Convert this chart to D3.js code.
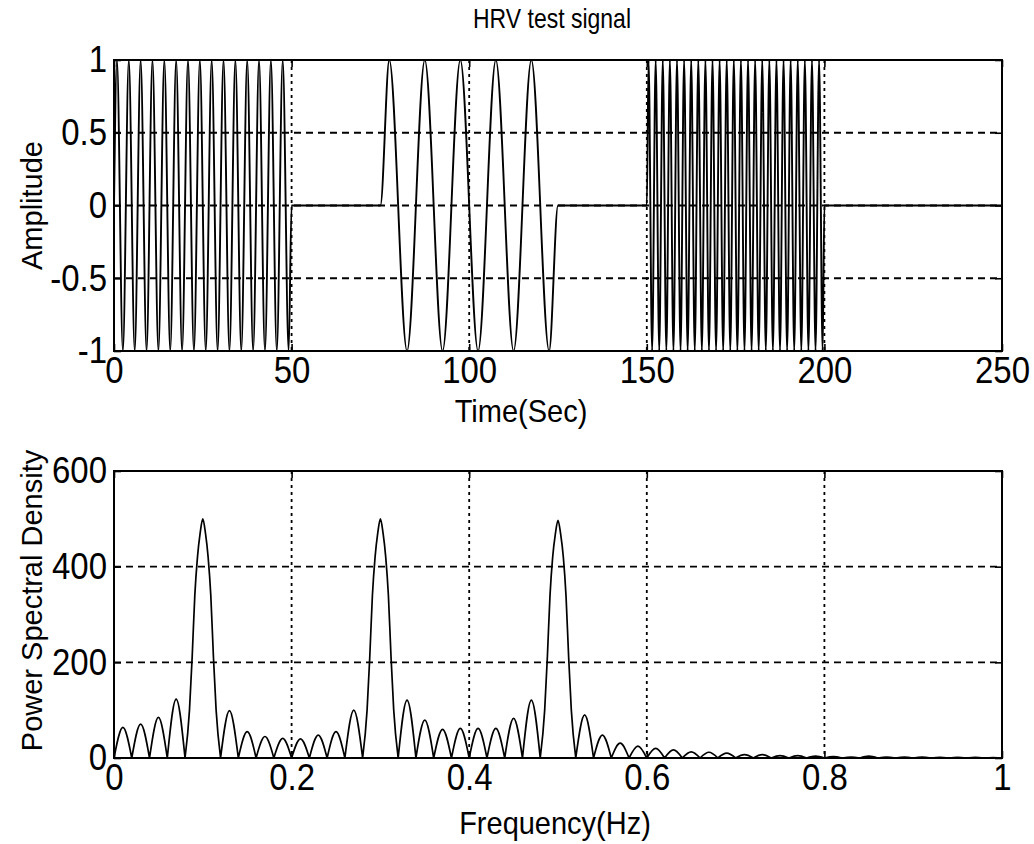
<!DOCTYPE html>
<html>
<head>
<meta charset="utf-8">
<script src="https://cdn.jsdelivr.net/npm/d3@7"></script>
<style>
  body { margin: 0; background: #fff; }
  svg { display: block; }
  text { font-family: "Liberation Sans", Arial, Helvetica, sans-serif; fill: #000; }
</style>
</head>
<body>
<svg id="chart" width="1034" height="844"></svg>
<script>
// ---- HRV test signal: three sinusoid bursts, given by their extrema (seconds) ----
const burstAPeaks   = [0.83, 4.17, 7.5, 10.83, 14.17, 17.5, 20.83, 24.17, 27.5, 30.83, 34.17, 37.5, 40.83, 44.17, 47.5];
const burstATroughs = [2.5, 5.83, 9.17, 12.5, 15.83, 19.17, 22.5, 25.83, 29.17, 32.5, 35.83, 39.17, 42.5, 45.83, 49.17];
const burstBPeaks   = [77.5, 87.5, 97.5, 107.5, 117.5];
const burstBTroughs = [82.5, 92.5, 102.5, 112.5, 122.5];
const burstCPeaks   = [150.5, 152.5, 154.5, 156.5, 158.5, 160.5, 162.5, 164.5, 166.5, 168.5, 170.5, 172.5, 174.5,
                       176.5, 178.5, 180.5, 182.5, 184.5, 186.5, 188.5, 190.5, 192.5, 194.5, 196.5, 198.5];
const burstCTroughs = [151.5, 153.5, 155.5, 157.5, 159.5, 161.5, 163.5, 165.5, 167.5, 169.5, 171.5, 173.5, 175.5,
                       177.5, 179.5, 181.5, 183.5, 185.5, 187.5, 189.5, 191.5, 193.5, 195.5, 197.5, 199.5];
const restTimes     = [0, 50, 75, 125, 150, 200, 250];   // signal sits at 0 here

const timeTicks = [0, 50, 100, 150, 200, 250];
const ampTicks  = [-1, -0.5, 0, 0.5, 1];
const ampTickLabels = ["-1", "-0.5", "0", "0.5", "1"];

// ---- Power spectral density: lobe vertices (Hz, value); zeros split the lobes ----
const psdFreq = [
  0, 0.01, 0.02, 0.03, 0.04, 0.05, 0.06, 0.07, 0.08,
  0.085, 0.088, 0.091, 0.094, 0.097, 0.1, 0.103, 0.106, 0.109, 0.112, 0.115, 0.12,
  0.13, 0.14, 0.15, 0.16, 0.17, 0.18, 0.19, 0.2, 0.21, 0.22, 0.23, 0.24, 0.25, 0.26, 0.27, 0.28,
  0.285, 0.288, 0.291, 0.294, 0.297, 0.3, 0.303, 0.306, 0.309, 0.312, 0.315, 0.32,
  0.33, 0.34, 0.35, 0.36, 0.37, 0.38, 0.39, 0.4, 0.41, 0.42, 0.43, 0.44, 0.45, 0.46, 0.47, 0.48,
  0.485, 0.488, 0.491, 0.494, 0.497, 0.5, 0.503, 0.506, 0.509, 0.512, 0.515, 0.52,
  0.53, 0.54, 0.55, 0.56, 0.57, 0.58, 0.59, 0.6, 0.61, 0.62, 0.63, 0.64, 0.65, 0.66, 0.67, 0.68,
  0.69, 0.7, 0.71, 0.72, 0.73, 0.74, 0.75, 0.76, 0.77, 0.78, 0.79, 0.8, 0.81, 0.82, 0.83, 0.84,
  0.85, 0.86, 0.87, 0.88, 0.89, 0.9, 0.91, 0.92, 0.93, 0.94, 0.95, 0.96, 0.97, 0.98, 0.99, 1
];
const psdPower = [
  0, 64, 0, 71, 0, 85, 0, 123, 0,
  100, 210, 340, 420, 470, 500, 470, 420, 340, 210, 100, 0,
  99, 0, 55, 0, 45, 0, 41, 0, 40, 0, 48, 0, 55, 0, 100, 0,
  100, 210, 340, 420, 470, 500, 470, 420, 340, 210, 100, 0,
  121, 0, 79, 0, 60, 0, 62, 0, 62, 0, 62, 0, 83, 0, 121, 0,
  100, 210, 340, 420, 468, 497, 468, 420, 340, 210, 100, 0,
  90, 0, 48, 0, 31, 0, 25, 0, 20, 0, 17, 0, 13, 0, 12, 0,
  10, 0, 7, 0, 7, 0, 5, 0, 5, 0, 4, 0, 3, 0, 2, 0,
  4, 0, 2, 0, 2, 0, 2, 0, 1.5, 0, 1.5, 0, 1.5, 0, 1, 0
];

const freqTicks = [0, 0.2, 0.4, 0.6, 0.8, 1];
const freqTickLabels = ["0", "0.2", "0.4", "0.6", "0.8", "1"];
const psdTicks = [0, 200, 400, 600];

// ---- layout ----
const svg = d3.select("#chart");
const left = 114, right = 1002;
const top1 = 60, bottom1 = 351;
const top2 = 471, bottom2 = 758;
const TICK_FS = 33, LABEL_FS = 29, TITLE_FS = 23;
const FONT = '"Liberation Sans", Arial, sans-serif';

const xTime = d3.scaleLinear().domain([0, 250]).range([left, right]);
const yAmp  = d3.scaleLinear().domain([-1, 1]).range([bottom1, top1]);
const xFreq = d3.scaleLinear().domain([0, 1]).range([left, right]);
const yPsd  = d3.scaleLinear().domain([0, 600]).range([bottom2, top2]);

// stretch a text element vertically about a given y
function stretchY(sel, y0, s) {
  sel.attr("transform", `translate(0,${y0}) scale(1,${s}) translate(0,${-y0})`);
}

function grid(g, x, y, xGrid, yGrid, yTop, yBot) {
  g.selectAll("line.vg").data(xGrid).join("line").attr("class", "vg")
    .attr("x1", d => x(d)).attr("x2", d => x(d))
    .attr("y1", yTop).attr("y2", yBot)
    .attr("stroke", "#000").attr("stroke-width", 1.8).attr("stroke-dasharray", "3,4");
  g.selectAll("line.hg").data(yGrid).join("line").attr("class", "hg")
    .attr("x1", left).attr("x2", right)
    .attr("y1", d => y(d)).attr("y2", d => y(d))
    .attr("stroke", "#000").attr("stroke-width", 1.8).attr("stroke-dasharray", "7,5");
}

function axes(g, x, y, xTicks, xFmt, yTicks, yFmt, yTop, yBot) {
  const ax = g.append("g").attr("transform", `translate(0,${yBot})`)
    .call(d3.axisBottom(x).tickValues(xTicks).tickFormat(xFmt).tickSizeInner(-7).tickSizeOuter(0).tickPadding(6));
  const at = g.append("g").attr("transform", `translate(0,${yTop})`)
    .call(d3.axisTop(x).tickValues(xTicks).tickFormat("").tickSizeInner(-7).tickSizeOuter(0));
  const ay = g.append("g").attr("transform", `translate(${left},0)`)
    .call(d3.axisLeft(y).tickValues(yTicks).tickFormat(yFmt).tickSizeInner(-7).tickSizeOuter(0).tickPadding(7));
  const ar = g.append("g").attr("transform", `translate(${right},0)`)
    .call(d3.axisRight(y).tickValues(yTicks).tickFormat("").tickSizeInner(-7).tickSizeOuter(0));
  [ax, at, ay, ar].forEach(a => {
    a.select(".domain").remove();
    a.selectAll(".tick line").attr("stroke", "#000").attr("stroke-width", 1.6);
    a.selectAll("text").attr("font-size", TICK_FS).attr("fill", "#000").attr("font-family", FONT);
  });
  ax.selectAll(".tick text").each(function () { stretchY(d3.select(this), 6, 1.12); });
  ay.selectAll(".tick text").each(function () { stretchY(d3.select(this), 0, 1.12); });
  g.append("rect").attr("x", left).attr("y", yTop).attr("width", right - left).attr("height", yBot - yTop)
    .attr("fill", "none").attr("stroke", "#000").attr("stroke-width", 2);
}

// ---- top panel: time signal ----
const gTop = svg.append("g");
grid(gTop, xTime, yAmp, [50, 100, 150, 200], [-0.5, 0, 0.5], top1, bottom1);

const signalPts = []
  .concat(burstAPeaks.map(t => [t, 1]), burstATroughs.map(t => [t, -1]))
  .concat(burstBPeaks.map(t => [t, 1]), burstBTroughs.map(t => [t, -1]))
  .concat(burstCPeaks.map(t => [t, 1]), burstCTroughs.map(t => [t, -1]))
  .concat(restTimes.map(t => [t, 0]))
  .sort((a, b) => a[0] - b[0]);

const signalLine = d3.line().x(d => xTime(d[0])).y(d => yAmp(d[1])).curve(d3.curveMonotoneX);
gTop.append("path").attr("d", signalLine(signalPts))
  .attr("fill", "none").attr("stroke", "#000").attr("stroke-width", 1.9);

axes(gTop, xTime, yAmp, timeTicks, d => String(d), ampTicks, (d, i) => ampTickLabels[i], top1, bottom1);

// ---- bottom panel: spectrum ----
const gBot = svg.append("g");
grid(gBot, xFreq, yPsd, [0.2, 0.4, 0.6, 0.8], [200, 400], top2, bottom2);

// split the vertex list into lobes at the zero crossings, each lobe drawn as its own arch
const lobes = [];
let cur = [[psdFreq[0], psdPower[0]]];
for (let i = 1; i < psdFreq.length; i++) {
  cur.push([psdFreq[i], psdPower[i]]);
  if (psdPower[i] === 0) { lobes.push(cur); cur = [[psdFreq[i], psdPower[i]]]; }
}
if (cur.length > 1) lobes.push(cur);

const psdLine = d3.line().x(d => xFreq(d[0])).y(d => yPsd(d[1])).curve(d3.curveMonotoneX);
gBot.append("path").attr("d", lobes.map(l => psdLine(l)).join(""))
  .attr("fill", "none").attr("stroke", "#000").attr("stroke-width", 1.7).attr("stroke-linejoin", "round");

axes(gBot, xFreq, yPsd, freqTicks, (d, i) => freqTickLabels[i], psdTicks, d => String(d), top2, bottom2);

// ---- titles and axis labels ----
const title = svg.append("text").attr("x", 552).attr("y", 28).attr("text-anchor", "middle")
  .attr("font-size", TITLE_FS).text("HRV test signal");
stretchY(title, 28, 1.2);
const tLabel = svg.append("text").attr("x", 521).attr("y", 422).attr("text-anchor", "middle")
  .attr("font-size", LABEL_FS).text("Time(Sec)");
stretchY(tLabel, 422, 1.08);
const fLabel = svg.append("text").attr("x", 555).attr("y", 834).attr("text-anchor", "middle")
  .attr("font-size", LABEL_FS).text("Frequency(Hz)");
stretchY(fLabel, 834, 1.08);
svg.append("text").attr("transform", `translate(42,${(top1 + bottom1) / 2}) rotate(-90)`)
  .attr("text-anchor", "middle").attr("font-size", LABEL_FS).text("Amplitude");
svg.append("text").attr("transform", `translate(42,${(top2 + bottom2) / 2 - 14}) rotate(-90)`)
  .attr("text-anchor", "middle").attr("font-size", LABEL_FS).text("Power Spectral Density");
</script>
</body>
</html>
